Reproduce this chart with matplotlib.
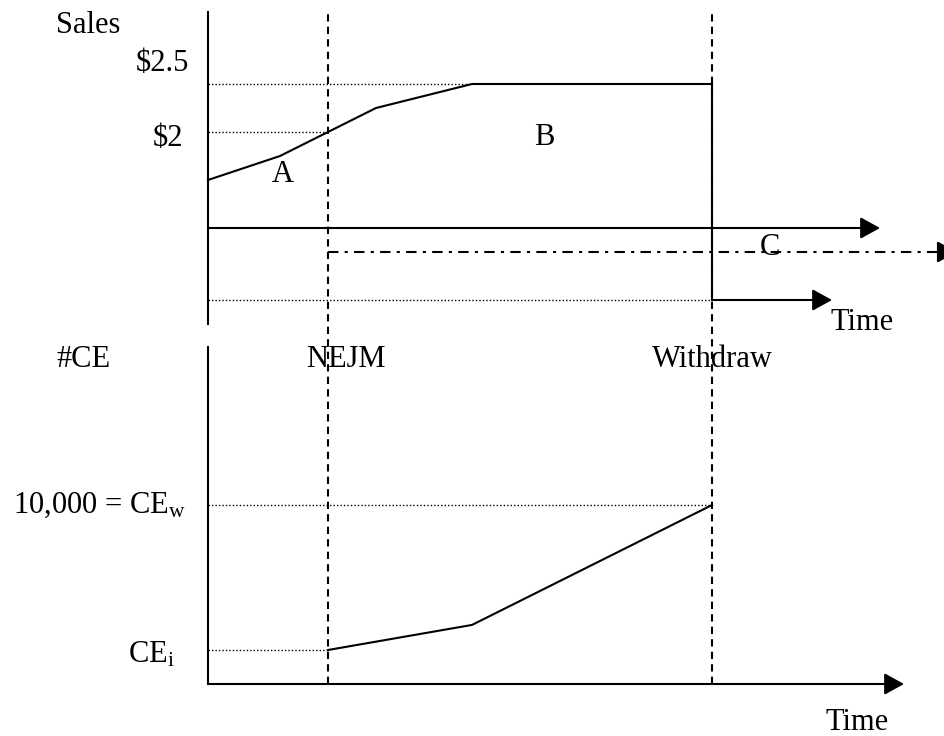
import matplotlib
matplotlib.use("Agg")
import matplotlib.pyplot as plt

plt.rcParams['font.family'] = ['Liberation Serif', 'DejaVu Serif']
plt.rcParams['mathtext.fontset'] = 'custom'
plt.rcParams['mathtext.rm'] = 'Liberation Serif'
plt.rcParams['mathtext.it'] = 'Liberation Serif:italic'

# schematic data (time in arbitrary units)
t_nejm = 5
t_withdraw = 21
sales_t = [0, 3, 5, 7, 11, t_withdraw]
sales_v = [1.5, 1.75, 2.0, 2.25, 2.5, 2.5]
sales_after = 0.25      # sales level after withdrawal
sales_c = 0.75          # counterfactual line C
sales_axis = 1.0        # level of the upper time axis
ce_t = [t_nejm, 11, t_withdraw]
ce_v = [1900, 3300, 10000]
ce_w = 10000
ce_i = 1900

W, H = 945, 736
fig = plt.figure(figsize=(W / 100, H / 100), dpi=100)

x0 = 208           # pixel of t = 0
px_t = 24          # pixels per time unit
xmax = (W - x0) / px_t

ax1 = fig.add_axes([x0 / W, (H - 324) / H, (W - x0) / W, 312 / H])
ax2 = fig.add_axes([x0 / W, (H - 684) / H, (W - x0) / W, 337 / H])
ax1.set_xlim(0, xmax)
ax1.set_ylim(0, 3.25)
ax2.set_xlim(0, xmax)
ax2.set_ylim(0, 18830)
for ax in (ax1, ax2):
    ax.axis('off')

fs = 22
lw = 1.5
head = '-|>,head_length=0.6,head_width=0.33'
arrow = dict(arrowstyle=head, color='black', lw=lw, shrinkA=0, shrinkB=0,
             mutation_scale=20)

# ---- top panel: sales ----
ax1.plot([0, 0], [0, 3.25], color='black', lw=lw, clip_on=False)
ax1.annotate('', xy=(28, sales_axis), xytext=(0, sales_axis), arrowprops=arrow)
ax1.plot(sales_t, sales_v, color='black', lw=lw, clip_on=False)
ax1.plot([t_withdraw, t_withdraw], [sales_v[-1], sales_after], color='black', lw=lw)
ax1.annotate('', xy=(26, sales_after), xytext=(t_withdraw, sales_after), arrowprops=arrow)

dot = dict(color='black', lw=1.0, dashes=(1, 1.5))
ax1.plot([0, 11], [2.5, 2.5], **dot)
ax1.plot([0, t_nejm], [2.0, 2.0], **dot)
ax1.plot([0, t_withdraw], [sales_after, sales_after], **dot)

# counterfactual sales (dash-dot) running off the right edge
ax1.plot([t_nejm, 30.6], [sales_c, sales_c], color='black', lw=lw,
         dashes=(5, 3, 1.5, 3), clip_on=False)
ax1.annotate('', xy=(31.2, sales_c), xytext=(30.5, sales_c), arrowprops=arrow,
             annotation_clip=False)

ax1.text(-5, 3.11, 'Sales', fontsize=fs, ha='center', va='center')
ax1.text(-1.9, 2.71, '$2.5', fontsize=fs, ha='center', va='center')
ax1.text(-1.67, 1.93, '$2', fontsize=fs, ha='center', va='center')
ax1.text(3.1, 1.56, 'A', fontsize=fs, ha='center', va='center')
ax1.text(14.0, 1.94, 'B', fontsize=fs, ha='center', va='center')
ax1.text(23.4, 0.80, 'C', fontsize=fs, ha='center', va='center')
ax1.text(27.25, 0.02, 'Time', fontsize=fs, ha='center', va='center')

# ---- bottom panel: cumulative CE ----
ax2.plot([0, 0], [0, 18830], color='black', lw=lw, clip_on=False)
ax2.annotate('', xy=(29, 0), xytext=(0, 0), arrowprops=arrow, annotation_clip=False)
ax2.plot(ce_t, ce_v, color='black', lw=lw)
ax2.plot([0, t_withdraw], [ce_w, ce_w], **dot)
ax2.plot([0, t_nejm], [ce_i, ce_i], **dot)

ax2.text(-5.17, 18150, '#CE', fontsize=fs, ha='center', va='center')
ax2.text(5.75, 18150, 'NEJM', fontsize=fs, ha='center', va='center')
ax2.text(21, 18150, 'Withdraw', fontsize=fs, ha='center', va='center')
ax2.text(-0.92, ce_w, r'10,000 = CE$_\mathrm{w}$', fontsize=fs, ha='right', va='center')
ax2.text(-1.375, 1620, r'CE$_\mathrm{i}$', fontsize=fs, ha='right', va='center')
ax2.text(27.04, -2150, 'Time', fontsize=fs, ha='center', va='center')

# dashed event lines spanning both panels
top_frac = (684 - 12) / 337
for t in (t_nejm, t_withdraw):
    ax2.axvline(t, 0, top_frac, color='black', lw=lw, dashes=(3.5, 2.5), clip_on=False)

fig.savefig('out.png', dpi=100)
